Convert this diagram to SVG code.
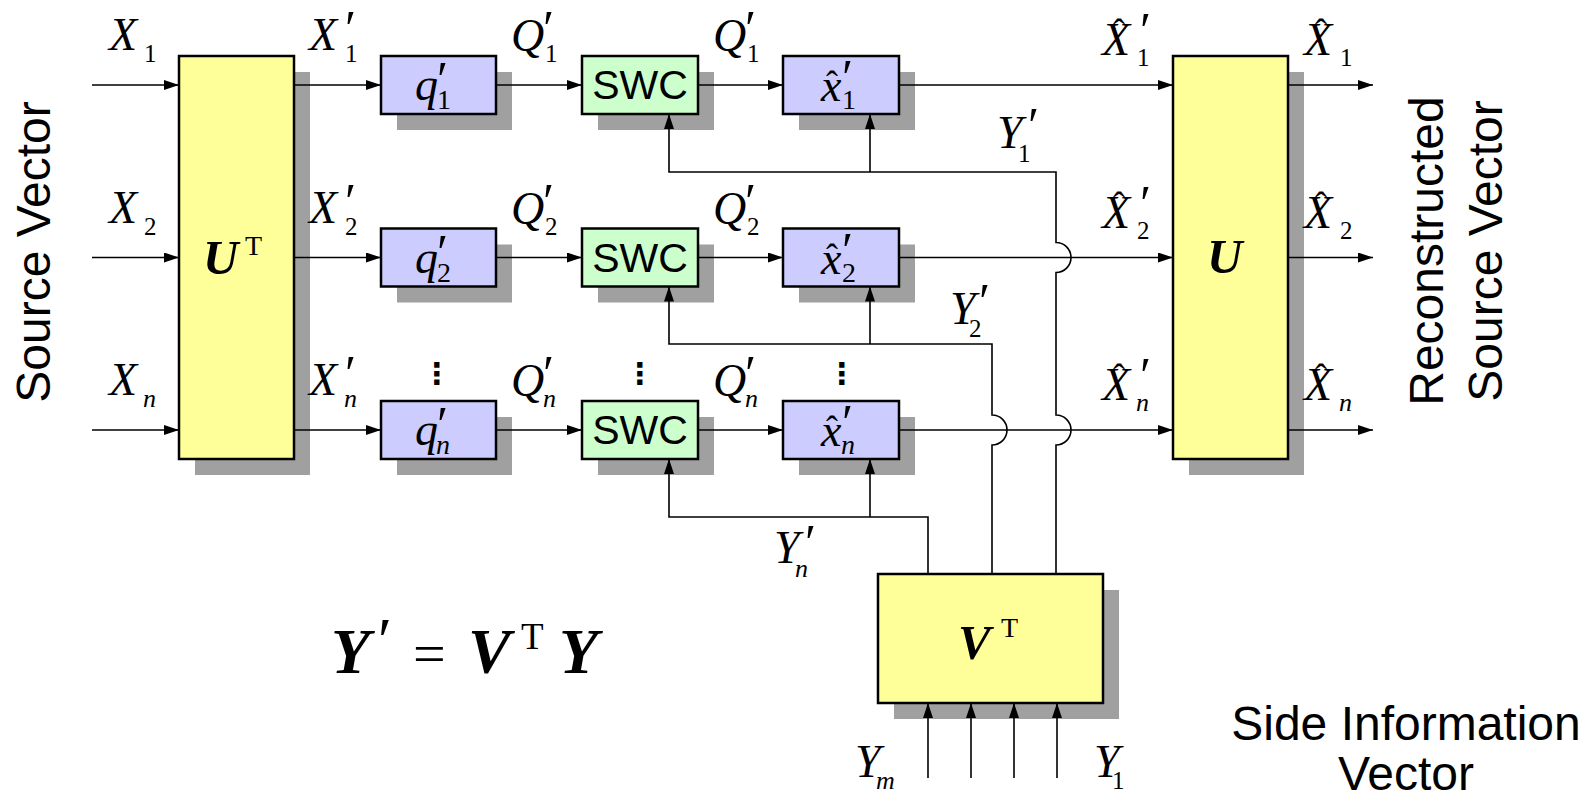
<svg xmlns="http://www.w3.org/2000/svg" width="1596" height="806" viewBox="0 0 1596 806">
<style>
.sh{fill:#a0a0a0}
.box{stroke:#000;stroke-width:2.5}
.y{fill:#ffff99}
.b{fill:#ccccff}
.g{fill:#ccffcc}
.ln{fill:none;stroke:#000;stroke-width:1.6}
.m{font-family:"Liberation Serif","DejaVu Serif",serif;font-style:italic;font-size:46px}
.s{font-family:"Liberation Serif","DejaVu Serif",serif;font-style:normal;font-size:25px}
.si{font-family:"Liberation Serif","DejaVu Serif",serif;font-style:italic;font-size:26px}
.sb{font-family:"Liberation Serif","DejaVu Serif",serif;font-style:normal;font-size:28px}
.p{font-family:"Liberation Serif","DejaVu Serif",serif;font-style:italic;font-weight:normal;font-size:50px}
.h{font-family:"Liberation Serif","DejaVu Serif",serif;font-style:normal;font-size:36px}
.bi{font-family:"Liberation Serif","DejaVu Serif",serif;font-style:italic;font-weight:bold;font-size:49px}
.sup{font-family:"Liberation Serif","DejaVu Serif",serif;font-style:normal;font-weight:normal;font-size:28px}
.sans{font-family:"Liberation Sans",Arial,sans-serif;font-size:48px}
.swc{font-family:"Liberation Sans",Arial,sans-serif;font-size:41px;text-anchor:middle}
.dots{font-family:"DejaVu Sans",sans-serif;font-weight:bold;font-size:30px;text-anchor:middle}
</style>
<defs>
<marker id="arr" viewBox="0 0 15 10" refX="15" refY="5" markerWidth="15" markerHeight="10" markerUnits="userSpaceOnUse" orient="auto"><path d="M0,0 L15,5 L0,10 z" fill="#000"/></marker>
</defs>

<!-- nodes -->
<g id="UT">
<rect class="sh" x="195" y="72" width="115" height="403"/>
<rect class="box y" x="179" y="56" width="115" height="403"/>
<text class="bi" x="203" y="274">U<tspan class="sup" x="245" y="255">T</tspan></text>
</g>
<g id="q1">
<rect class="sh" x="397" y="72" width="115" height="58"/>
<rect class="box b" x="381" y="56" width="115" height="58"/>
<text class="m" x="415" y="100">q<tspan class="p" x="434" y="96">′</tspan><tspan class="sb" x="437" y="109">1</tspan></text>
</g>
<g id="q2">
<rect class="sh" x="397" y="244.5" width="115" height="58"/>
<rect class="box b" x="381" y="228.5" width="115" height="58"/>
<text class="m" x="415" y="272.5">q<tspan class="p" x="434" y="268.5">′</tspan><tspan class="sb" x="437" y="281.5">2</tspan></text>
</g>
<g id="qn">
<rect class="sh" x="397" y="417" width="115" height="58"/>
<rect class="box b" x="381" y="401" width="115" height="58"/>
<text class="m" x="415" y="445">q<tspan class="p" x="434" y="441">′</tspan><tspan class="si" style="font-size:28px" x="436" y="454">n</tspan></text>
</g>
<g id="swc1">
<rect class="sh" x="598" y="72" width="116" height="58"/>
<rect class="box g" x="582" y="56" width="116" height="58"/>
<text class="swc" x="640" y="99">SWC</text>
</g>
<g id="swc2">
<rect class="sh" x="598" y="244.5" width="116" height="58"/>
<rect class="box g" x="582" y="228.5" width="116" height="58"/>
<text class="swc" x="640" y="271.5">SWC</text>
</g>
<g id="swcn">
<rect class="sh" x="598" y="417" width="116" height="58"/>
<rect class="box g" x="582" y="401" width="116" height="58"/>
<text class="swc" x="640" y="444">SWC</text>
</g>
<g id="xh1">
<rect class="sh" x="799" y="72" width="116" height="58"/>
<rect class="box b" x="783" y="56" width="116" height="58"/>
<text class="m" x="821" y="101">x<tspan class="h" x="826" y="96">ˆ</tspan><tspan class="p" x="839" y="94">′</tspan><tspan class="sb" x="842" y="109">1</tspan></text>
</g>
<g id="xh2">
<rect class="sh" x="799" y="244.5" width="116" height="58"/>
<rect class="box b" x="783" y="228.5" width="116" height="58"/>
<text class="m" x="821" y="273.5">x<tspan class="h" x="826" y="268.5">ˆ</tspan><tspan class="p" x="839" y="266.5">′</tspan><tspan class="sb" x="842" y="281.5">2</tspan></text>
</g>
<g id="xhn">
<rect class="sh" x="799" y="417" width="116" height="58"/>
<rect class="box b" x="783" y="401" width="116" height="58"/>
<text class="m" x="821" y="446">x<tspan class="h" x="826" y="441">ˆ</tspan><tspan class="p" x="839" y="439">′</tspan><tspan class="si" style="font-size:28px" x="841" y="454">n</tspan></text>
</g>
<g id="U">
<rect class="sh" x="1189" y="72" width="115" height="403"/>
<rect class="box y" x="1173" y="56" width="115" height="403"/>
<text class="bi" x="1207" y="273">U</text>
</g>
<g id="VT">
<rect class="sh" x="894" y="590" width="225" height="129"/>
<rect class="box y" x="878" y="574" width="225" height="129"/>
<text class="bi" x="958" y="659">V<tspan class="sup" x="1001" y="637">T</tspan></text>
</g>

<!-- connectors -->
<g id="connectors" class="ln">
<path d="M92,85 H179" marker-end="url(#arr)"/>
<path d="M92,257.5 H179" marker-end="url(#arr)"/>
<path d="M92,430 H179" marker-end="url(#arr)"/>
<path d="M294,85 H381" marker-end="url(#arr)"/>
<path d="M294,257.5 H381" marker-end="url(#arr)"/>
<path d="M294,430 H381" marker-end="url(#arr)"/>
<path d="M496,85 H582" marker-end="url(#arr)"/>
<path d="M496,257.5 H582" marker-end="url(#arr)"/>
<path d="M496,430 H582" marker-end="url(#arr)"/>
<path d="M698,85 H783" marker-end="url(#arr)"/>
<path d="M698,257.5 H783" marker-end="url(#arr)"/>
<path d="M698,430 H783" marker-end="url(#arr)"/>
<path d="M899,85 H1173" marker-end="url(#arr)"/>
<path d="M899,257.5 H1173" marker-end="url(#arr)"/>
<path d="M899,430 H1173" marker-end="url(#arr)"/>
<path d="M1288,85 H1373" marker-end="url(#arr)"/>
<path d="M1288,257.5 H1373" marker-end="url(#arr)"/>
<path d="M1288,430 H1373" marker-end="url(#arr)"/>
<path d="M1056,574 V445 A15,15 0 0 0 1056,415 V272.5 A15,15 0 0 0 1056,242.5 V172 H669 V114" marker-end="url(#arr)"/>
<path d="M870,172 V114" marker-end="url(#arr)"/>
<path d="M992,574 V445 A15,15 0 0 0 992,415 V344 H669 V286.5" marker-end="url(#arr)"/>
<path d="M870,344 V286.5" marker-end="url(#arr)"/>
<path d="M928,574 V517 H669 V459" marker-end="url(#arr)"/>
<path d="M870,517 V459" marker-end="url(#arr)"/>
<path d="M928,778 V703" marker-end="url(#arr)"/>
<path d="M971,778 V703" marker-end="url(#arr)"/>
<path d="M1014,778 V703" marker-end="url(#arr)"/>
<path d="M1057,778 V703" marker-end="url(#arr)"/>
</g>

<!-- labels -->
<g id="labels">
<text class="m" x="109" y="50">X<tspan class="s" x="144" y="62">1</tspan></text>
<text class="m" x="109" y="222.5">X<tspan class="s" x="144" y="234.5">2</tspan></text>
<text class="m" x="109" y="395">X<tspan class="si" x="143" y="407">n</tspan></text>

<text class="m" x="309" y="50">X<tspan class="p" x="342" y="45">′</tspan><tspan class="s" x="345" y="62">1</tspan></text>
<text class="m" x="309" y="222.5">X<tspan class="p" x="342" y="217.5">′</tspan><tspan class="s" x="345" y="234.5">2</tspan></text>
<text class="m" x="309" y="395">X<tspan class="p" x="342" y="390">′</tspan><tspan class="si" x="344" y="407">n</tspan></text>

<text class="m" x="511" y="51">Q<tspan class="p" x="540" y="45">′</tspan><tspan class="s" x="545" y="62">1</tspan></text>
<text class="m" x="511" y="223.5">Q<tspan class="p" x="540" y="217.5">′</tspan><tspan class="s" x="545" y="234.5">2</tspan></text>
<text class="m" x="511" y="396">Q<tspan class="p" x="540" y="390">′</tspan><tspan class="si" x="543" y="407">n</tspan></text>

<text class="m" x="713" y="51">Q<tspan class="p" x="742" y="45">′</tspan><tspan class="s" x="747" y="62">1</tspan></text>
<text class="m" x="713" y="223.5">Q<tspan class="p" x="742" y="217.5">′</tspan><tspan class="s" x="747" y="234.5">2</tspan></text>
<text class="m" x="713" y="396">Q<tspan class="p" x="742" y="390">′</tspan><tspan class="si" x="745" y="407">n</tspan></text>

<text class="dots" x="437" y="384">⋮</text>
<text class="dots" x="640" y="384">⋮</text>
<text class="dots" x="842" y="384">⋮</text>

<text class="m" x="1102" y="55">X<tspan class="h" x="1113" y="44">ˆ</tspan><tspan class="p" x="1137" y="47">′</tspan><tspan class="s" x="1137" y="66">1</tspan></text>
<text class="m" x="1102" y="227.5">X<tspan class="h" x="1113" y="216.5">ˆ</tspan><tspan class="p" x="1137" y="219.5">′</tspan><tspan class="s" x="1137" y="238.5">2</tspan></text>
<text class="m" x="1102" y="400">X<tspan class="h" x="1113" y="389">ˆ</tspan><tspan class="p" x="1137" y="392">′</tspan><tspan class="si" x="1136" y="411">n</tspan></text>

<text class="m" x="1304" y="55">X<tspan class="h" x="1315" y="44">ˆ</tspan><tspan class="s" x="1340" y="66">1</tspan></text>
<text class="m" x="1304" y="227.5">X<tspan class="h" x="1315" y="216.5">ˆ</tspan><tspan class="s" x="1340" y="238.5">2</tspan></text>
<text class="m" x="1304" y="400">X<tspan class="h" x="1315" y="389">ˆ</tspan><tspan class="si" x="1339" y="411">n</tspan></text>

<text class="m" x="997" y="148">Y<tspan class="p" x="1025" y="142">′</tspan><tspan class="s" x="1018" y="162">1</tspan></text>
<text class="m" x="950" y="324">Y<tspan class="p" x="976" y="318">′</tspan><tspan class="s" x="969" y="337">2</tspan></text>
<text class="m" x="774" y="563">Y<tspan class="p" x="802" y="559">′</tspan><tspan class="si" x="795" y="577">n</tspan></text>

<text class="m" x="855" y="777">Y<tspan class="si" x="876" y="789">m</tspan></text>
<text class="m" x="1094" y="777">Y<tspan class="s" x="1112" y="789">1</tspan></text>

<text class="bi" style="font-size:64px" x="331" y="673">Y<tspan class="p" style="font-size:64px" x="374" y="662">′</tspan><tspan class="h" style="font-size:58px;font-weight:normal" x="413" y="673">=</tspan><tspan x="468" y="673">V</tspan><tspan class="sup" style="font-size:37px" x="521" y="649">T</tspan><tspan x="559" y="673">Y</tspan></text>

<text class="sans" text-anchor="middle" transform="translate(50,252) rotate(-90)">Source Vector</text>
<text class="sans" text-anchor="middle" transform="translate(1443,251) rotate(-90)">Reconstructed</text>
<text class="sans" text-anchor="middle" transform="translate(1502,251) rotate(-90)">Source Vector</text>
<text class="sans" text-anchor="middle" x="1406" y="740">Side Information</text>
<text class="sans" text-anchor="middle" x="1406" y="790">Vector</text>
</g>
</svg>
